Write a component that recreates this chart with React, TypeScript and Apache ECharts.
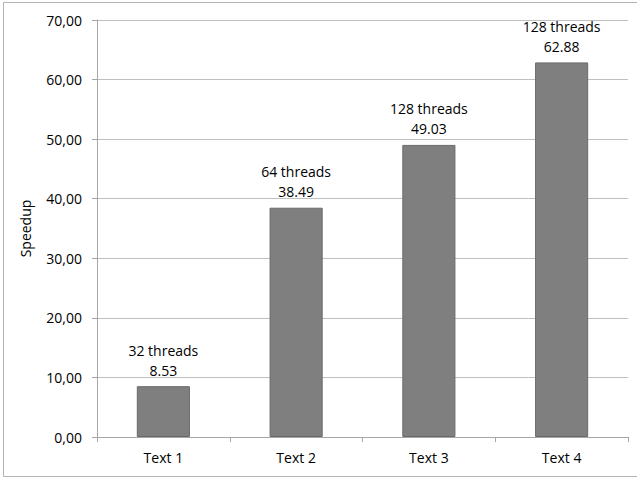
import React, { useEffect, useRef } from "react";
import * as echarts from "echarts";

const categories = ["Text 1", "Text 2", "Text 3", "Text 4"];
const speedups = [8.53, 38.49, 49.03, 62.88];
const threadLabels = ["32 threads", "64 threads", "128 threads", "128 threads"];
const yTicks = { min: 0, max: 70, interval: 10 };

const FONT = "'Open Sans', sans-serif";

export default function App() {
  const ref = useRef<HTMLDivElement>(null);

  useEffect(() => {
    if (!ref.current) return;
    const chart = echarts.init(ref.current, undefined, { renderer: "svg" });
    chart.setOption({
      animation: false,
      backgroundColor: "#ffffff",
      graphic: [
        {
          type: "rect",
          shape: { x: 3.5, y: 2.5, width: 640, height: 474 },
          style: { fill: "none", stroke: "#b3b3b3", lineWidth: 1 },
          silent: true,
        },
      ],
      grid: { left: 97, top: 20, right: 9, bottom: 42, containLabel: false },
      xAxis: {
        type: "category",
        data: categories,
        axisLine: { lineStyle: { color: "#a6a6a6" } },
        axisTick: { show: true, length: 5, lineStyle: { color: "#a6a6a6" } },
        axisLabel: { color: "#000", fontFamily: FONT, fontSize: 14, margin: 13 },
      },
      yAxis: {
        type: "value",
        min: yTicks.min,
        max: yTicks.max,
        interval: yTicks.interval,
        name: "Speedup",
        nameLocation: "middle",
        nameRotate: 90,
        nameGap: 65,
        nameTextStyle: { color: "#000", fontFamily: FONT, fontSize: 14 },
        axisLine: { show: true, lineStyle: { color: "#a6a6a6" } },
        axisTick: { show: true, length: 5, lineStyle: { color: "#a6a6a6" } },
        axisLabel: {
          color: "#000",
          fontFamily: FONT,
          fontSize: 14,
          margin: 15,
          formatter: (v: number) => v.toFixed(2).replace(".", ","),
        },
        splitLine: { lineStyle: { color: "#bfbfbf" } },
      },
      series: [
        {
          type: "bar",
          data: speedups,
          barWidth: "40%",
          itemStyle: { color: "#7f7f7f", borderColor: "#6a6a6a", borderWidth: 1 },
          label: {
            show: true,
            position: "top",
            distance: 6,
            color: "#000",
            fontFamily: FONT,
            fontSize: 14,
            lineHeight: 20,
            align: "center",
            formatter: (p: any) => `${threadLabels[p.dataIndex]}\n${speedups[p.dataIndex].toFixed(2)}`,
          },
        },
      ],
    });
    return () => chart.dispose();
  }, []);

  return <div ref={ref} style={{ width: 637, height: 479, position: "absolute", left: 0, top: 0 }} />;
}
